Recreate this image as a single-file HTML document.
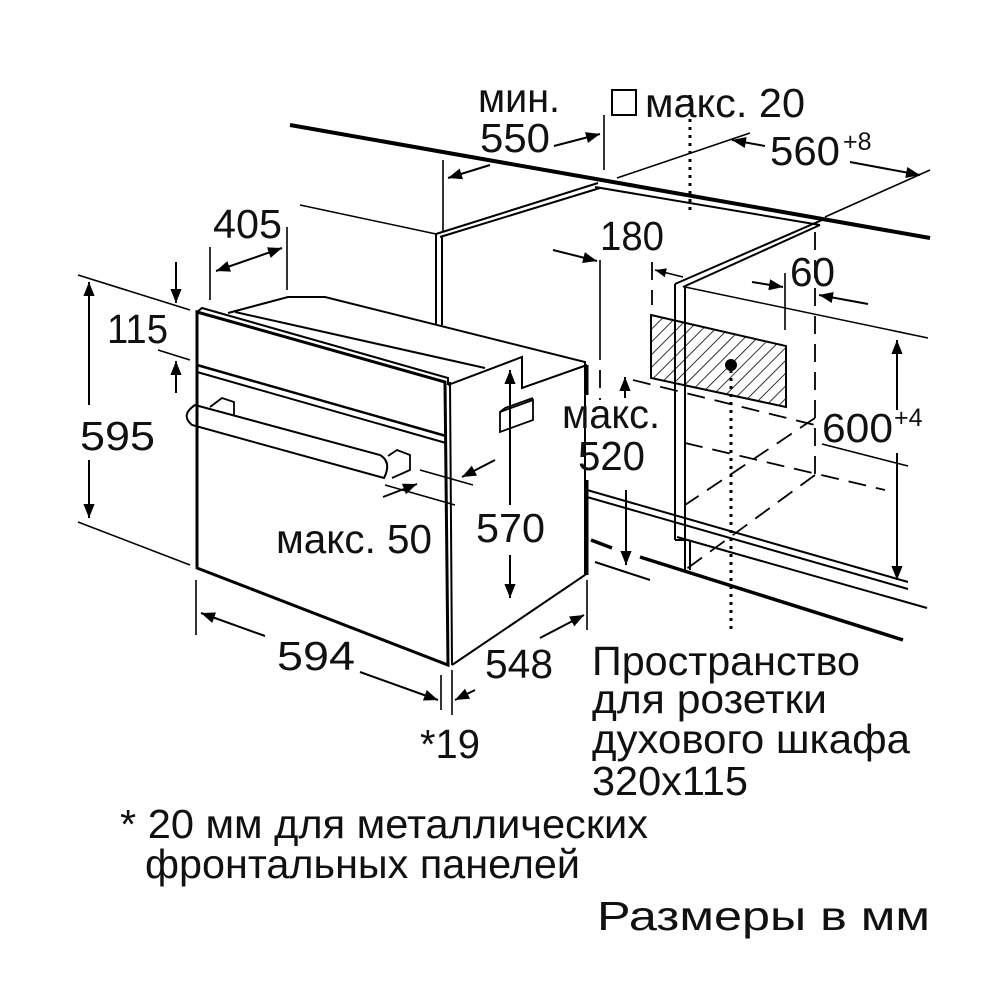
<!DOCTYPE html>
<html><head><meta charset="utf-8"><style>
html,body{margin:0;padding:0;background:#fff}
svg{display:block}
text{font-family:"Liberation Sans",sans-serif;fill:#111}
</style></head><body>
<svg width="1000" height="1000" viewBox="0 0 1000 1000" xmlns="http://www.w3.org/2000/svg">
<defs>
<marker id="a" viewBox="0 0 10 10" refX="10" refY="5" markerWidth="7" markerHeight="7" orient="auto-start-reverse"><path d="M0,1 L10,5 L0,9 z" fill="#000"/></marker>
<pattern id="h" width="9" height="9" patternUnits="userSpaceOnUse" patternTransform="rotate(45)"><line x1="0" y1="0" x2="0" y2="9" stroke="#000" stroke-width="1.6"/></pattern>
</defs>
<g stroke="#000" fill="none" stroke-width="2">
<line x1="290" y1="125" x2="930" y2="238" stroke-width="4"/>
<line x1="436" y1="234" x2="598" y2="183"/>
<line x1="440" y1="237" x2="600" y2="188"/>
<line x1="595" y1="187" x2="820" y2="225"/>
<line x1="822" y1="220" x2="675" y2="284"/>
<line x1="820" y1="225" x2="683" y2="287"/>
<line x1="436" y1="234" x2="436" y2="325"/>
<line x1="442" y1="236" x2="442" y2="325"/>
<line x1="300" y1="205" x2="436" y2="234" stroke-width="1.5"/>
<line x1="675" y1="284" x2="675" y2="540"/>
<line x1="685" y1="287" x2="685" y2="570"/>
<line x1="675" y1="540" x2="685" y2="540"/>
<line x1="690" y1="540" x2="690" y2="570"/>
<line x1="685" y1="287" x2="928" y2="338" stroke-width="1.5"/>
<polygon points="651,315 786,346 786,407 651,378" fill="url(#h)" stroke-width="2"/>
<circle cx="731" cy="365" r="5" fill="#000"/>
<line x1="690" y1="95" x2="690" y2="210" stroke-dasharray="3,5" stroke-width="3"/>
<line x1="731" y1="370" x2="731" y2="630" stroke-dasharray="3,5" stroke-width="3"/>
<g stroke-dasharray="18,10" stroke-width="1.8">
<line x1="815" y1="232" x2="815" y2="475"/>
<line x1="633" y1="380" x2="815" y2="425"/>
<line x1="685" y1="443" x2="885" y2="490"/>
<line x1="815" y1="418" x2="685" y2="505"/>
<line x1="815" y1="475" x2="685" y2="570"/>
<line x1="600" y1="370" x2="600" y2="400"/>
<line x1="652" y1="262" x2="652" y2="305"/>
</g>
<line x1="587" y1="490" x2="908" y2="582"/>
<line x1="587" y1="497" x2="908" y2="589"/>
<line x1="677" y1="537" x2="927" y2="608"/>
<line x1="640" y1="557" x2="903" y2="640" stroke-width="3.5"/>
<line x1="591" y1="540" x2="612" y2="548" stroke-width="3.5"/>
<line x1="595" y1="562" x2="650" y2="580"/>
<line x1="587" y1="480" x2="587" y2="575" stroke-width="3"/>
<line x1="587" y1="365" x2="587" y2="395" stroke-width="3"/>
<path d="M197,312 L445,382 L448,665 L197,568 Z" stroke-width="3"/>
<line x1="450" y1="382" x2="452" y2="665"/>
<path d="M197,312 L202,308 L448,378 L448,385" />
<line x1="197" y1="365" x2="446" y2="436" stroke-width="2.5"/>
<line x1="197" y1="372" x2="446" y2="443"/>
<path d="M228,313 L288,297 L325,297 L585,362 L585,575 L452,665"/>
<path d="M448,385 L522,357 L522,388 L587,365"/>
<line x1="235" y1="312" x2="485" y2="368"/>
<path d="M500,412 L533,400 L533,420 L500,432 Z M500,412 L505,408 L533,398" stroke-width="1.8"/>
<path d="M195,405 L380,455 Q392,462 384,478 L192,425 Q180,415 195,405 Z" stroke-width="2"/>
<path d="M210,407 L222,398 L234,402 L234,415" stroke-width="1.8"/>
<path d="M388,456 L397,450 L410,455 L410,470 L392,478" stroke-width="1.8"/>
<line x1="78" y1="275" x2="190" y2="310" stroke-width="1.6"/>
<line x1="78" y1="522" x2="190" y2="565" stroke-width="1.6"/>
<line x1="89" y1="282" x2="89" y2="405" marker-start="url(#a)"/>
<line x1="89" y1="460" x2="89" y2="518" marker-end="url(#a)"/>
<line x1="158" y1="350" x2="190" y2="360" stroke-width="1.6"/>
<line x1="176" y1="262" x2="176" y2="303" marker-end="url(#a)"/>
<line x1="176" y1="393" x2="176" y2="361" marker-end="url(#a)"/>
<line x1="210" y1="247" x2="210" y2="300" stroke-width="1.6"/>
<line x1="287" y1="227" x2="287" y2="290" stroke-width="1.6"/>
<line x1="216" y1="271" x2="282" y2="248" marker-start="url(#a)" marker-end="url(#a)"/>
<line x1="443" y1="160" x2="443" y2="232" stroke-width="1.6"/>
<line x1="604" y1="115" x2="604" y2="170" stroke-width="1.6"/>
<line x1="448" y1="178" x2="490" y2="165" marker-start="url(#a)"/>
<line x1="554" y1="146" x2="600" y2="134" marker-end="url(#a)"/>
<line x1="617" y1="178" x2="750" y2="133" stroke-width="1.6"/>
<line x1="825" y1="217" x2="930" y2="170" stroke-width="1.6"/>
<line x1="765" y1="146" x2="732" y2="140" marker-end="url(#a)"/>
<line x1="850" y1="162" x2="920" y2="175" marker-end="url(#a)"/>
<line x1="600" y1="260" x2="600" y2="360" stroke-width="1.6"/>
<line x1="553" y1="250" x2="597" y2="261" marker-end="url(#a)"/>
<line x1="655" y1="270" x2="683" y2="277" marker-start="url(#a)" stroke-width="1.6"/>
<line x1="785" y1="273" x2="785" y2="330" stroke-width="1.6"/>
<line x1="752" y1="282" x2="783" y2="287" marker-end="url(#a)"/>
<line x1="868" y1="304" x2="819" y2="295" marker-end="url(#a)"/>
<line x1="897" y1="340" x2="897" y2="410" marker-start="url(#a)"/>
<line x1="897" y1="453" x2="897" y2="580" marker-end="url(#a)"/>
<line x1="822" y1="444" x2="908" y2="466" stroke-width="1.6"/>
<line x1="625" y1="377" x2="625" y2="398" marker-start="url(#a)"/>
<line x1="626" y1="490" x2="626" y2="565" marker-end="url(#a)"/>
<line x1="510" y1="370" x2="510" y2="505" marker-start="url(#a)"/>
<line x1="510" y1="555" x2="510" y2="598" marker-end="url(#a)"/>
<line x1="420" y1="470" x2="473" y2="485" stroke-width="1.6"/>
<line x1="385" y1="485" x2="455" y2="505" stroke-width="1.6"/>
<line x1="495" y1="460" x2="462" y2="477" marker-end="url(#a)"/>
<line x1="383" y1="497" x2="417" y2="484" marker-end="url(#a)"/>
<line x1="196" y1="580" x2="196" y2="635" stroke-width="1.6"/>
<line x1="441" y1="675" x2="441" y2="710" stroke-width="1.6"/>
<line x1="201" y1="613" x2="265" y2="636" marker-start="url(#a)"/>
<line x1="360" y1="672" x2="438" y2="700" marker-end="url(#a)"/>
<line x1="587" y1="580" x2="587" y2="630" stroke-width="1.6"/>
<line x1="452" y1="670" x2="452" y2="715" stroke-width="1.6"/>
<line x1="455" y1="700" x2="475" y2="690" marker-start="url(#a)"/>
<line x1="540" y1="638" x2="584" y2="615" marker-end="url(#a)"/>
</g>
<rect x="612" y="90" width="24" height="25" fill="none" stroke="#000" stroke-width="2"/>
<g font-size="41" lengthAdjust="spacingAndGlyphs">
<text x="478" y="112" textLength="82" lengthAdjust="spacingAndGlyphs">мин.</text>
<text x="480" y="152" textLength="70" lengthAdjust="spacingAndGlyphs">550</text>
<text x="645" y="117" textLength="160" lengthAdjust="spacingAndGlyphs">макс. 20</text>
<text x="770" y="165" textLength="70" lengthAdjust="spacingAndGlyphs">560</text><text x="843" y="150" font-size="25">+8</text>
<text x="213" y="238" textLength="69" lengthAdjust="spacingAndGlyphs">405</text>
<text x="600" y="250" textLength="64" lengthAdjust="spacingAndGlyphs">180</text>
<text x="790" y="286" textLength="45" lengthAdjust="spacingAndGlyphs">60</text>
<text x="107" y="343" textLength="61" lengthAdjust="spacingAndGlyphs">115</text>
<text x="80" y="450" textLength="75" lengthAdjust="spacingAndGlyphs">595</text>
<text x="562" y="428" textLength="98" lengthAdjust="spacingAndGlyphs">макс.</text>
<text x="578" y="470" textLength="67" lengthAdjust="spacingAndGlyphs">520</text>
<text x="822" y="442" textLength="71" lengthAdjust="spacingAndGlyphs">600</text><text x="894" y="426" font-size="25">+4</text>
<text x="476" y="542" textLength="69" lengthAdjust="spacingAndGlyphs">570</text>
<text x="276" y="553" textLength="156" lengthAdjust="spacingAndGlyphs">макс. 50</text>
<text x="277" y="670" textLength="78" lengthAdjust="spacingAndGlyphs">594</text>
<text x="485" y="678" textLength="68" lengthAdjust="spacingAndGlyphs">548</text>
<text x="420" y="758" textLength="60" lengthAdjust="spacingAndGlyphs">*19</text>
<text x="592" y="675" textLength="268" lengthAdjust="spacingAndGlyphs">Пространство</text>
<text x="592" y="713" textLength="235" lengthAdjust="spacingAndGlyphs">для розетки</text>
<text x="592" y="753" textLength="318" lengthAdjust="spacingAndGlyphs">духового шкафа</text>
<text x="592" y="795" textLength="156" lengthAdjust="spacingAndGlyphs">320x115</text>
<text x="120" y="838" textLength="528" lengthAdjust="spacingAndGlyphs">* 20 мм для металлических</text>
<text x="145" y="878" textLength="435" lengthAdjust="spacingAndGlyphs">фронтальных панелей</text>
<text x="597" y="930" textLength="333" lengthAdjust="spacingAndGlyphs">Размеры в мм</text>
</g>
</svg>
</body></html>
